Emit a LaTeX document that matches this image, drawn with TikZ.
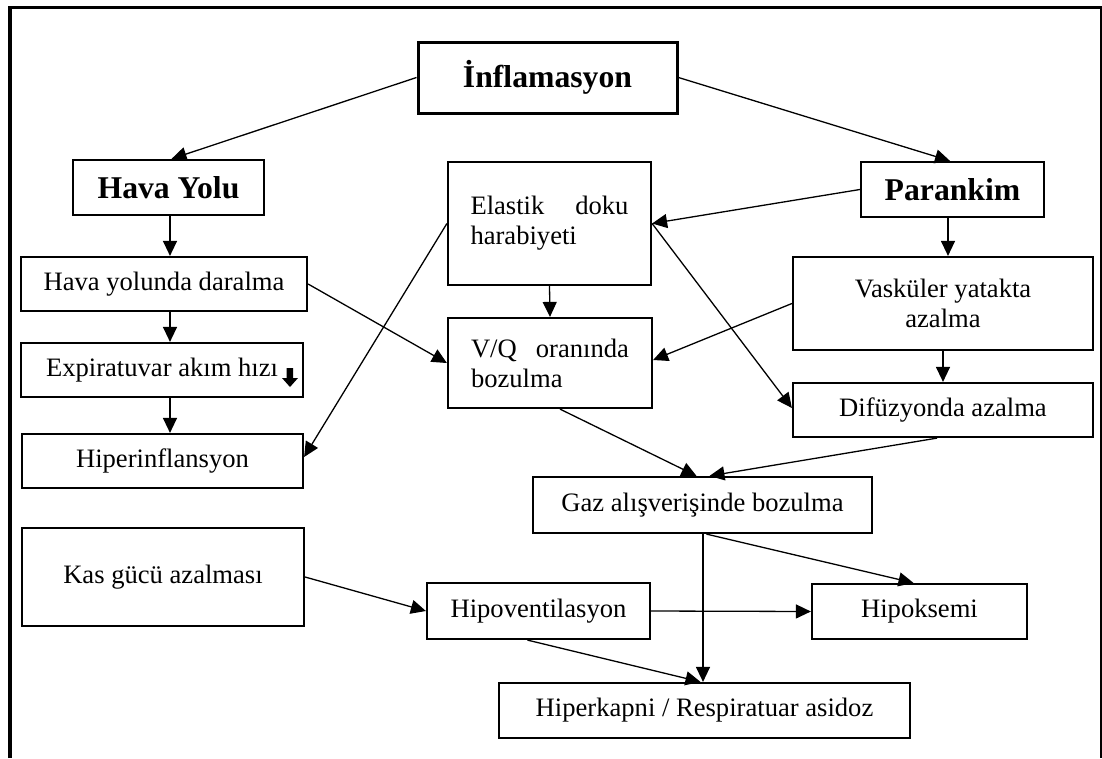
\documentclass[tikz,border=0pt]{standalone}
\usepackage{fontspec}
\setmainfont{Liberation Serif}
\usetikzlibrary{arrows.meta,calc}
\begin{document}
\begin{tikzpicture}[x=1pt,y=-1pt,
  txt/.style={font=\fontsize{26.6}{30}\selectfont},
  head/.style={font=\fontsize{31.7}{36}\selectfont\bfseries},
  box/.style={draw, line width=2.2pt, inner sep=0pt, align=center},
  link/.style={line width=1.3pt, -{Triangle[length=15pt,width=14pt]}},
]
% page and outer frame (open at the bottom)
\fill[white] (0,0) rectangle (1102,758);
\useasboundingbox (0,0) rectangle (1102,758);
\draw[line width=3.3pt] (10,758) -- (10,6);
\draw[line width=3pt] (8.5,7.5) -- (1101,7.5);
\draw[line width=2pt] (1100.5,6) -- (1100.5,758);

% column guides for vertical connectors
\coordinate (colA) at (170,0);
\coordinate (colB) at (948,0);
\coordinate (colC) at (703,0);

% headings
\node[box, head, line width=3pt, minimum width=259pt, minimum height=71pt] (infl) at (547.5,77.5) {İnflamasyon};
\node[box, head, minimum width=191pt, minimum height=55pt] (hava) at (168.5,187.5) {Hava Yolu};
\node[box, head, minimum width=183pt, minimum height=55pt] (par) at (952.5,189.5) {Parankim};

% airway column
\node[box, txt, minimum width=286pt, minimum height=54pt] (hyd) at (164,284) {Hava yolunda daralma};
\node[box, txt, minimum width=282pt, minimum height=54pt] (exp) at (162,370) {Expiratuvar akım hızı};
\fill[shift={(exp.center)}] (124.5,-2) -- (131,-2) -- (131,8) -- (136,8) -- (128,17) -- (120,8) -- (124.5,8) -- cycle;
\node[box, txt, minimum width=281pt, minimum height=54pt] (hip) at (162.5,461) {Hiperinflansyon};

% middle column
\node[box, txt, align=left, text width=158pt, minimum width=203pt, minimum height=123pt] (elas) at (549.5,223.5) {Elastik\hfill doku\\harabiyeti};
\node[box, txt, align=left, text width=158pt, minimum width=204pt, minimum height=90pt] (vq) at (550,363) {V/Q\hfill oranında\\bozulma};

% parenchyma column
\node[box, txt, minimum width=300pt, minimum height=93pt] (vask) at (943,303.5) {Vasküler yatakta\\azalma};
\node[box, txt, minimum width=300pt, minimum height=54pt] (dif) at (943,410) {Difüzyonda azalma};

% lower part
\node[box, txt, minimum width=339pt, minimum height=56pt] (gaz) at (702.5,505) {Gaz alışverişinde bozulma};
\node[box, txt, minimum width=282pt, minimum height=98pt] (kas) at (163,577) {Kas gücü azalması};
\node[box, txt, minimum width=223pt, minimum height=56pt] (hv) at (538.5,611) {Hipoventilasyon};
\node[box, txt, minimum width=215pt, minimum height=55pt] (hks) at (919.5,611.5) {Hipoksemi};
\node[box, txt, minimum width=411pt, minimum height=55pt] (hkp) at (704.5,710.5) {Hiperkapni / Respiratuar asidoz};

% connectors
\draw[link] (infl.west) -- ([xshift=3pt]hava.north);
\draw[link] (infl.east) -- ([xshift=-2.5pt]par.north);
\draw[link] (hava.south -| colA) -- (hyd.north -| colA);
\draw[link] (hyd.south -| colA) -- (exp.north -| colA);
\draw[link] (exp.south -| colA) -- (hip.north -| colA);
\draw[link] (hyd.east) -- (vq.west);
\draw[link] (elas.west) -- ([yshift=4pt]hip.east);
\draw[link] (elas.south) -- (vq.north);
\draw[link] (par.west) -- (elas.east);
\draw[link] (elas.east) -- ([yshift=2pt]dif.west);
\draw[link] (par.south -| colB) -- (vask.north -| colB);
\draw[link] (vask.west) -- ([yshift=3pt]vq.east);
\draw[link] (vask.south) -- (dif.north);
\draw[link] ([xshift=10pt]vq.south) -- ([xshift=-6pt]gaz.north);
\draw[link] ([xshift=-6pt]dif.south) -- ([xshift=7pt]gaz.north);
\draw[link] ([xshift=4pt]gaz.south) -- ([xshift=-6pt]hks.north);
\draw[link] (gaz.south -| colC) -- (hkp.north -| colC);
\draw[link] (kas.east) -- (hv.west);
\draw[link] (hv.east) -- (hks.west);
\draw[link] ([xshift=-11pt]hv.south) -- ([xshift=-4pt]hkp.north);
\end{tikzpicture}
\end{document}
